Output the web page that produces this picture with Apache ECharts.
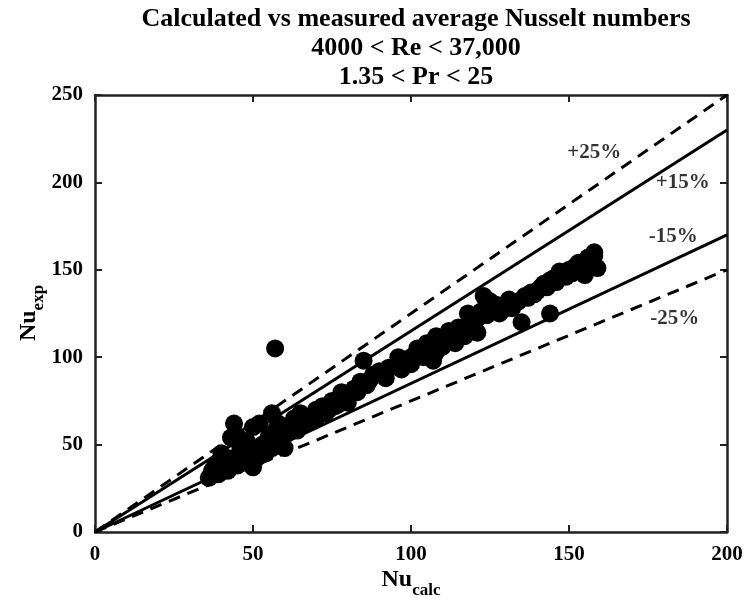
<!DOCTYPE html>
<html><head><meta charset="utf-8">
<script src="https://cdn.jsdelivr.net/npm/echarts@6/dist/echarts.min.js"></script>
<style>html,body{margin:0;padding:0;background:#fff}#c{width:746px;height:611px}</style>
</head><body><div id="c"></div>
<script>
const titleLines = ['Calculated vs measured average Nusselt numbers', '4000 < Re < 37,000', '1.35 < Pr < 25'];
const xTicks = [0, 50, 100, 150, 200];
const yTicks = [0, 50, 100, 150, 200, 250];
const nuCalc = [36,37,38,39,40,40,41,42,43,43,44,45,45,46,47,48,49,50,50,50,51,52,53,54,55,56,56,57,58,58,60,60,62,63,64,65,66,68,70,70,72,73,75,76,78,80,80,82,84,85,86,88,90,92,95,96,98,100,100,102,104,105,106,107,108,110,112,113,115,117,118,120,121,122,123,125,128,130,132,134,135,136,138,140,142,144,144,145,146,147,148,150,152,153,154,155,156,157,158,158,159,57,
  125,127,129,131,133,137,139,141,143,149,151,153,155,110,103,97,93,87,83,79,77,74,71,67,61,59,57,55,53,48,46,44,42,39,108,114,116,119,121,124];
const nuExp  = [31,35,38,33,45,36,40,35,42,54,62,55,38,48,44,52,40,60,47,37,42,62,50,45,55,48,68,58,52,62,55,48,60,65,58,68,62,64,70,65,72,68,75,72,80,78,74,82,86,98,84,90,92,88,95,100,97,100,96,105,100,108,104,98,112,110,115,111,117,112,125,120,114,126,135,128,125,130,128,132,120,135,137,138,142,144,125,145,143,149,148,150,152,154,150,147,157,155,158,160,151,105,
  132,130,127,133,131,134,136,140,140,146,148,150,152,106,102,93,94,87,80,76,73,70,68,66,58,55,50,50,45,46,42,40,38,40,103,108,115,118,122,124];
const bandSlopes = [1.25, 1.15, 0.85, 0.75];
const bandLabels = ['+25%', '+15%', '-15%', '-25%'];
const labelX = [158, 186, 183, 183.5];
const labelY = [217, 200, 169, 122];

const font = '"Liberation Serif", "Times New Roman", serif';
const pts = nuCalc.map((x, i) => [x, nuExp[i]]);
const series = [];
bandSlopes.forEach((s, i) => {
  series.push({
    type: 'line', data: [[0, 0], [200, 200 * s]], symbol: 'none', silent: true,
    lineStyle: { color: '#000', width: 3, type: (s === 1.25 || s === 0.75) ? [12, 8] : 'solid' },
    z: 1
  });
});
series.push({
  type: 'scatter', data: pts, symbolSize: 18,
  itemStyle: { color: '#000', opacity: 1 }, z: 3
});
series.push({
  type: 'scatter', symbolSize: 0,
  data: bandLabels.map((t, i) => ({ value: [labelX[i], labelY[i]], name: t })),
  label: { show: true, position: 'inside', formatter: p => p.name, color: '#000',
    fontFamily: font, fontWeight: 'bold', fontSize: 21 },
  z: 4
});

const axisCommon = {
  axisTick: { show: true, inside: true, length: 7, lineStyle: { color: '#222', width: 2 } },
  splitLine: { show: false }
};
const lineSt = { show: true, onZero: false, lineStyle: { color: '#222', width: 2.5 } };
const chart = echarts.init(document.getElementById('c'));
chart.setOption({
  animation: false,
  backgroundColor: '#fff',
  title: titleLines.map((t, i) => ({
    text: t, left: 411, textAlign: 'center', top: [1, 30, 59][i],
    textStyle: { fontFamily: font, fontWeight: 'bold', fontSize: 26, color: '#000' }
  })),
  grid: { left: 95, right: 19, top: 95, bottom: 79 },
  xAxis: [
    Object.assign({ type: 'value', min: 0, max: 200, interval: 50, position: 'bottom', axisLine: lineSt,
      axisLabel: { color: '#000', fontFamily: font, fontWeight: 'bold', fontSize: 21, margin: 12,
        formatter: v => xTicks.includes(v) ? String(v) : '' } }, axisCommon),
    Object.assign({ type: 'value', min: 0, max: 200, interval: 50, position: 'top', axisLine: lineSt,
      axisLabel: { show: false } }, axisCommon)
  ],
  yAxis: [
    Object.assign({ type: 'value', min: 0, max: 250, interval: 50, position: 'left', axisLine: lineSt,
      axisLabel: { color: '#000', fontFamily: font, fontWeight: 'bold', fontSize: 21, margin: 12,
        formatter: v => yTicks.includes(v) ? String(v) : '' } }, axisCommon),
    Object.assign({ type: 'value', min: 0, max: 250, interval: 50, position: 'right', axisLine: lineSt,
      axisLabel: { show: false } }, axisCommon)
  ],
  graphic: [
    { type: 'text', x: 411, y: 560,
      style: { text: '{a|Nu}{b|calc}', align: 'center', rich: {
        a: { fontFamily: font, fontWeight: 'bold', fontSize: 24, fill: '#000' },
        b: { fontFamily: font, fontWeight: 'bold', fontSize: 17, fill: '#000', padding: [22, 0, 0, 0] }
      } } },
    { type: 'text', x: 10, y: 313, rotation: Math.PI / 2,
      style: { text: '{a|Nu}{b|exp}', align: 'center', rich: {
        a: { fontFamily: font, fontWeight: 'bold', fontSize: 24, fill: '#000' },
        b: { fontFamily: font, fontWeight: 'bold', fontSize: 17, fill: '#000', padding: [20, 0, 0, 0] }
      } } }
  ],
  series: series
});
</script></body></html>
